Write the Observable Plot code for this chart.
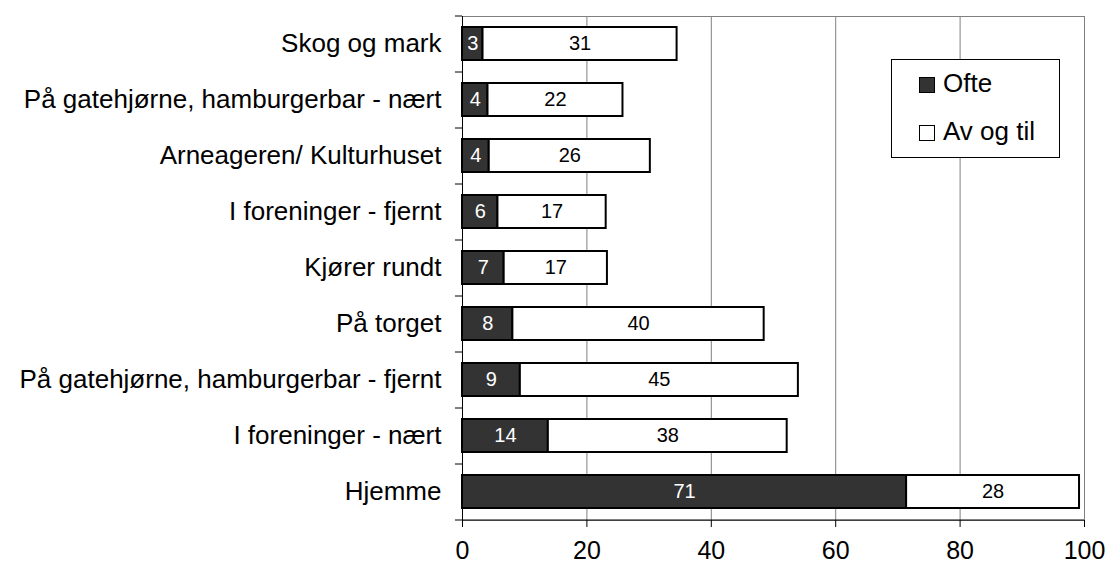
<!DOCTYPE html>
<html><head><meta charset="utf-8">
<script src="https://cdn.jsdelivr.net/npm/d3@7"></script>
<script src="https://cdn.jsdelivr.net/npm/@observablehq/plot@0.6"></script>
<style>
body{margin:0;background:#fff;}
#wrap{position:relative;width:1109px;height:567px;font-family:"Liberation Sans",Arial,sans-serif;}
#legend{position:absolute;left:891px;top:59px;width:169px;height:99px;box-sizing:border-box;border:1px solid #000;background:#fff;}
.sw{position:absolute;left:27px;width:16px;height:16px;box-sizing:border-box;border:1.5px solid #000;}
.lt{position:absolute;left:51px;font-size:26px;line-height:26px;color:#000;white-space:nowrap;}
</style></head><body><div id="wrap"></div>
<script>
const categories = ["Skog og mark", "På gatehjørne, hamburgerbar - nært", "Arneageren/ Kulturhuset", "I foreninger - fjernt", "Kjører rundt", "På torget", "På gatehjørne, hamburgerbar - fjernt", "I foreninger - nært", "Hjemme"];
const ofte = [3.3, 4.1, 4.3, 5.7, 6.7, 8.1, 9.3, 13.8, 71.4];
const avOgTil = [31.2, 21.7, 25.9, 17.4, 16.6, 40.4, 44.7, 38.4, 27.8];
const seriesNames = ["Ofte", "Av og til"];
const seriesColors = ["#333333", "#ffffff"];
const xTicks = [0, 20, 40, 60, 80, 100];
const gridTicks = [20, 40, 60, 80];

const rows = [];
categories.forEach((c, i) => {
  rows.push({cat: c, series: seriesNames[0], x1: 0, x2: ofte[i], v: ofte[i]});
  rows.push({cat: c, series: seriesNames[1], x1: ofte[i], x2: ofte[i] + avOgTil[i], v: avOgTil[i]});
});
const lastCat = categories[categories.length - 1];

const chart = Plot.plot({
  width: 1109, height: 567,
  marginLeft: 462, marginRight: 25, marginTop: 16, marginBottom: 47,
  style: {fontFamily: "Liberation Sans, Arial, sans-serif", background: "#fff", color: "#000"},
  x: {domain: [0, 100], ticks: xTicks},
  y: {domain: categories, paddingInner: 0.41, paddingOuter: 0.205},
  color: {domain: seriesNames, range: seriesColors},
  marks: [
    Plot.ruleX(gridTicks, {stroke: "#808080", strokeWidth: 1}),
    Plot.frame({stroke: "#808080"}),
    Plot.barX(rows, {x1: "x1", x2: "x2", y: "cat", fill: "series", stroke: "#000", strokeWidth: 2}),
    Plot.text(rows.filter(d => d.series === seriesNames[0]), {x: d => (d.x1 + d.x2) / 2, y: "cat", text: d => Math.round(d.v), fill: "#fff", fontSize: 20}),
    Plot.text(rows.filter(d => d.series === seriesNames[1]), {x: d => (d.x1 + d.x2) / 2, y: "cat", text: d => Math.round(d.v), fill: "#000", fontSize: 20}),
    Plot.ruleX([0], {stroke: "#000"}),
    Plot.ruleY([lastCat], {x1: 0, x2: 100, dy: 28, stroke: "#000"}),
    Plot.ruleY(categories, {x1: -1.13, x2: 0, dy: 28, stroke: "#000"}),
    Plot.ruleY([categories[0]], {x1: -1.13, x2: 0, dy: -28, stroke: "#000"}),
    Plot.axisX(xTicks, {tickSize: 7, tickPadding: 14, fontSize: 25, label: null}),
    Plot.axisY({tickSize: 0, tickPadding: 21, fontSize: 26, label: null})
  ]
});
const wrap = document.getElementById("wrap");
wrap.appendChild(chart);
const legend = document.createElement("div");
legend.id = "legend";
const tops = [[17, 10], [65, 58]];
seriesNames.forEach((name, i) => {
  const sw = document.createElement("div");
  sw.className = "sw";
  sw.style.top = tops[i][0] + "px";
  sw.style.background = seriesColors[i];
  const t = document.createElement("div");
  t.className = "lt";
  t.style.top = tops[i][1] + "px";
  t.textContent = name;
  legend.appendChild(sw);
  legend.appendChild(t);
});
wrap.appendChild(legend);
</script></body></html>
